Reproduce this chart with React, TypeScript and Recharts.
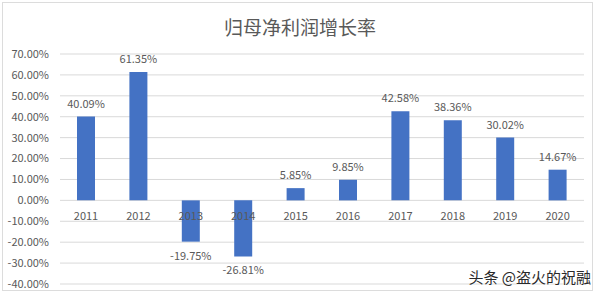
import React from "react";
import { BarChart, Bar, XAxis, YAxis, CartesianGrid, LabelList } from "recharts";

const years = ["2011", "2012", "2013", "2014", "2015", "2016", "2017", "2018", "2019", "2020"];
const growth = [40.09, 61.35, -19.75, -26.81, 5.85, 9.85, 42.58, 38.36, 30.02, 14.67];
const yTicks = [-40, -30, -20, -10, 0, 10, 20, 30, 40, 50, 60, 70];

const data = years.map((year, i) => ({ year, growth: growth[i] }));

const FONT = '"Noto Sans CJK SC", "Noto Sans", sans-serif';
const GRAY = "#595959";

const fmt = (v: number) => `${v.toFixed(2)}%`;

// value label: above positive bars, below negative ones
const ValueLabel = (props: any) => {
    const { x, y, width, height, value } = props;
    const top = Math.min(y, y + height);
    const bottom = Math.max(y, y + height);
    const cx = x + width / 2;
    const ty = value >= 0 ? top - 9 : bottom + 18;
    return (
        <text x={cx} y={ty} textAnchor="middle" fill={GRAY} fontSize={11} fontFamily={FONT}>
            {fmt(value)}
        </text>
    );
};

// category label sits just under the zero line, like Excel does
const YearLabel = (props: any) => {
    const { x, y, width, height, index, value } = props;
    const top = Math.min(y, y + height);
    const bottom = Math.max(y, y + height);
    const zero = growth[index] >= 0 ? bottom : top;
    return (
        <text x={x + width / 2} y={zero + 20} textAnchor="middle" fill={GRAY} fontSize={11} fontFamily={FONT}>
            {value}
        </text>
    );
};

export default function App() {
    return (
        <div style={{ position: "absolute", left: 0, top: 0, width: 600, height: 294, background: "#fff", fontFamily: FONT }}>
            <div style={{ position: "absolute", left: 2, top: 2, width: 591, height: 289, border: "1px solid #dcdcdc", boxSizing: "border-box" }} />
            <div style={{ position: "absolute", left: 0, top: 14, width: 600, textAlign: "center", fontSize: 19, lineHeight: "26px", color: GRAY }}>
                归母净利润增长率
            </div>
            <div style={{ position: "absolute", left: 0, top: 0 }}>
                <BarChart width={600} height={294} data={data} margin={{ top: 54, right: 16, bottom: 10, left: 8 }}>
                    <CartesianGrid vertical={false} stroke="#d9d9d9" />
                    <XAxis dataKey="year" hide />
                    <YAxis
                        domain={[-40, 70]}
                        ticks={yTicks}
                        interval={0}
                        width={52}
                        axisLine={false}
                        tickLine={false}
                        tickSize={0}
                        tickMargin={11}
                        tickFormatter={fmt}
                        tick={{ fill: GRAY, fontSize: 11, fontFamily: FONT }}
                    />
                    <Bar dataKey="growth" fill="#4472c4" barSize={18} isAnimationActive={false}>
                        <LabelList dataKey="growth" content={ValueLabel} />
                        <LabelList dataKey="year" content={YearLabel} />
                    </Bar>
                </BarChart>
            </div>
            <div style={{ position: "absolute", right: 9, top: 266, fontSize: 15, color: "#2a2a2a", textShadow: "0 0 2px #fff, 0 0 2px #fff" }}>
                头条 @盗火的祝融
            </div>
        </div>
    );
}
